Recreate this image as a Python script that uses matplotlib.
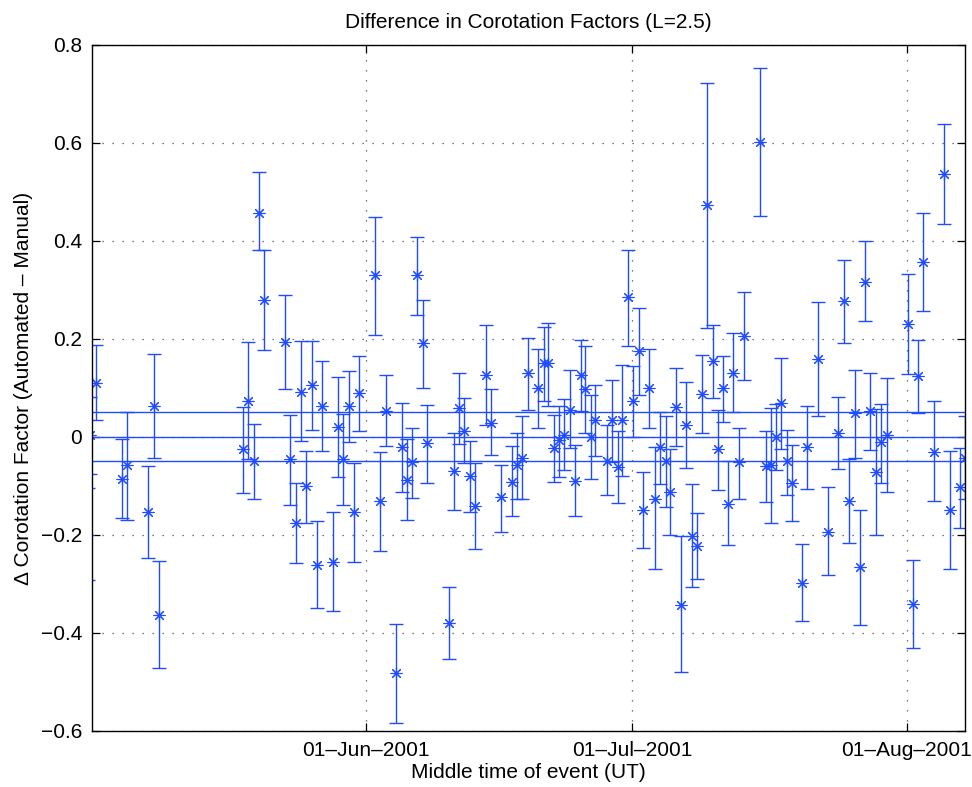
import matplotlib
matplotlib.use('Agg')
import matplotlib.pyplot as plt
import matplotlib.dates as mdates
import numpy as np
from datetime import datetime

plt.rcParams['font.family'] = ['Liberation Sans', 'DejaVu Sans']

# ---------------- data ----------------
base_date = datetime(2001, 5, 1)
# middle time of each event, in days after 01-May-2001 00:00 UT
event_day = [
    -0.37, -0.11, 0.50, 3.50, 4.06, 6.43, 7.04, 7.64,
    17.15, 17.72, 18.36, 18.89, 19.52, 21.89, 22.46, 23.07, 23.67, 24.26,
    24.87, 25.44, 26.04, 27.24, 27.87, 28.44, 29.05, 29.65, 30.24,
    32.02, 32.58, 33.22, 34.39, 35.03, 35.59, 36.16, 36.72, 37.40, 37.92,
    40.37, 40.90, 41.53, 42.06, 42.74, 43.30, 44.51, 45.11, 46.24, 47.44,
    48.08, 48.64, 49.25, 50.45, 51.09, 51.54, 52.25, 52.82, 53.38, 54.02,
    54.59, 55.27, 55.72, 56.40, 56.85, 58.17, 58.73, 59.41, 59.93, 60.57,
    61.13, 61.78, 62.30, 62.94, 63.62,
    64.18, 64.82, 65.34, 65.95, 66.55, 67.15, 67.76, 68.32, 68.92, 69.49,
    70.13, 70.73, 71.29, 71.89, 72.45, 73.10, 73.66, 75.50, 76.11, 76.67,
    77.24, 77.84, 78.48, 79.04,
    80.24, 80.80, 81.98, 83.17, 84.30, 84.94, 85.54, 86.15, 86.75, 87.35,
    87.91, 88.56, 89.15, 89.76, 92.17, 92.70, 93.30, 93.90, 95.10, 96.27,
    96.87, 98.07, 98.60,
]
# difference in corotation factor (automated - manual)
delta_cf = [
    -0.200, 0.005, 0.111, -0.086, -0.057, -0.153, 0.063, -0.363,
    -0.025, 0.074, -0.050, 0.457, 0.279, 0.194, -0.045, -0.175, 0.092, -0.101,
    0.106, -0.261, 0.064, -0.255, 0.021, -0.045, 0.064, -0.154, 0.090,
    0.330, -0.130, 0.053, -0.481, -0.021, -0.087, -0.052, 0.330, 0.191, -0.012,
    -0.379, -0.069, 0.059, 0.012, -0.080, -0.140, 0.127, 0.029, -0.123, -0.091,
    -0.057, -0.043, 0.130, 0.099, 0.150, 0.150, -0.023, -0.007, 0.005, 0.056,
    -0.089, 0.126, 0.097, 0.000, 0.034, -0.048, 0.034, -0.062, 0.034, 0.285,
    0.074, 0.176, -0.150, 0.100, -0.127,
    -0.021, -0.050, -0.113, 0.061, -0.343, 0.024, -0.202, -0.223, 0.088, 0.473,
    0.155, -0.024, 0.100, -0.136, 0.131, -0.052, 0.206, 0.603, -0.060, -0.057,
    0.000, 0.070, -0.050, -0.093,
    -0.297, -0.021, 0.159, -0.193, 0.008, 0.278, -0.130, 0.049, -0.266, 0.317,
    0.053, -0.071, -0.010, 0.005, 0.230, -0.341, 0.124, 0.358, -0.030, 0.536,
    -0.149, -0.102, -0.042,
]
# lower and upper ends of the error bars
cf_low = [
    -0.292, -0.075, 0.035, -0.166, -0.169, -0.247, -0.042, -0.472,
    -0.114, -0.045, -0.126, 0.381, 0.178, 0.097, -0.139, -0.258, -0.009, -0.175,
    0.015, -0.348, -0.028, -0.355, -0.082, -0.139, -0.010, -0.256, 0.012,
    0.208, -0.233, -0.019, -0.583, -0.113, -0.170, -0.125, 0.248, 0.101, -0.093,
    -0.453, -0.149, -0.014, -0.053, -0.154, -0.229, 0.024, -0.037, -0.193, -0.162,
    -0.127, -0.127, 0.056, 0.019, 0.073, 0.063, -0.091, -0.082, -0.068, -0.023,
    -0.162, 0.053, 0.009, -0.086, -0.039, -0.119, -0.052, -0.135, -0.080, 0.185,
    0.000, 0.086, -0.227, 0.019, -0.270,
    -0.096, -0.143, -0.200, -0.018, -0.480, -0.063, -0.306, -0.290, 0.008, 0.223,
    0.079, -0.109, 0.031, -0.220, 0.050, -0.127, 0.116, 0.451, -0.133, -0.175,
    -0.068, -0.024, -0.118, -0.172,
    -0.376, -0.107, 0.043, -0.282, -0.066, 0.192, -0.216, -0.042, -0.383, 0.236,
    -0.026, -0.201, -0.093, -0.113, 0.128, -0.430, 0.048, 0.257, -0.130, 0.435,
    -0.270, -0.186, -0.127,
]
cf_high = [
    -0.105, 0.082, 0.188, -0.005, 0.051, -0.060, 0.169, -0.254,
    0.061, 0.194, 0.026, 0.540, 0.381, 0.289, 0.045, -0.093, 0.196, -0.028,
    0.196, -0.172, 0.156, -0.154, 0.122, 0.047, 0.135, -0.053, 0.165,
    0.449, -0.030, 0.127, -0.382, 0.070, -0.005, 0.019, 0.409, 0.280, 0.065,
    -0.307, 0.008, 0.131, 0.079, -0.009, -0.053, 0.228, 0.097, -0.057, -0.019,
    0.008, 0.043, 0.202, 0.179, 0.224, 0.232, 0.044, 0.063, 0.078, 0.136,
    -0.016, 0.198, 0.186, 0.085, 0.106, 0.024, 0.117, 0.013, 0.147, 0.382,
    0.145, 0.263, -0.072, 0.179, -0.020,
    0.050, 0.043, -0.025, 0.140, -0.202, 0.112, -0.096, -0.156, 0.167, 0.723,
    0.229, 0.056, 0.165, -0.050, 0.212, 0.019, 0.296, 0.754, 0.012, 0.059,
    0.068, 0.162, 0.015, -0.017,
    -0.218, 0.063, 0.275, -0.102, 0.082, 0.362, -0.045, 0.136, -0.150, 0.399,
    0.131, 0.058, 0.067, 0.121, 0.332, -0.252, 0.198, 0.458, 0.073, 0.638,
    -0.028, -0.023, 0.043,
]
ref_levels = [-0.05, 0.0, 0.05]

x_tick_dates = [datetime(2001, 6, 1), datetime(2001, 7, 1), datetime(2001, 8, 1)]
x_tick_labels = ['01\u2013Jun\u20132001', '01\u2013Jul\u20132001', '01\u2013Aug\u20132001']
y_ticks = [-0.6, -0.4, -0.2, 0.0, 0.2, 0.4, 0.6, 0.8]
y_tick_labels = ['\u22120.6', '\u22120.4', '\u22120.2', '0', '0.2', '0.4', '0.6', '0.8']

# ---------------- plot ----------------
blue = '#1f4cff'
fig = plt.figure(figsize=(9.72, 7.87), dpi=100)
ax = fig.add_axes([92 / 972, 1 - 731 / 787, (965 - 92) / 972, (731 - 45) / 787])

t0 = mdates.date2num(base_date)
x = t0 + np.array(event_day)
y = np.array(delta_cf)
lo = np.array(cf_low)
hi = np.array(cf_high)

ax.errorbar(x, y, yerr=[y - lo, hi - y], fmt='none', ecolor=blue,
            elinewidth=1.0, capsize=4.7, capthick=1.0)
ax.plot(x, y, linestyle='none', marker=(8, 2, 0), markersize=8.5,
        markeredgewidth=0.8, color=blue)
for lvl in ref_levels:
    ax.axhline(lvl, color=blue, linewidth=1.0)

ax.set_xlim(t0 + 0.08, t0 + 98.6)
ax.set_ylim(-0.6, 0.8)

ax.set_xticks([mdates.date2num(d) for d in x_tick_dates])
ax.set_xticklabels(x_tick_labels)
ax.set_yticks(y_ticks)
ax.set_yticklabels(y_tick_labels)

ax.tick_params(direction='in', length=6, width=0.9, labelsize=15,
               top=True, right=True, pad=7)
ax.grid(True, color='0.3', linestyle=(0, (1, 7)), linewidth=0.9)
for s in ax.spines.values():
    s.set_linewidth(1.0)

ax.set_title('Difference in Corotation Factors (L=2.5)', fontsize=15, pad=12)
ax.set_xlabel('Middle time of event (UT)', fontsize=15, labelpad=2)
ax.set_ylabel('\u0394 Corotation Factor (Automated \u2013 Manual)', fontsize=15, labelpad=6)

fig.savefig('out.png', dpi=100)
